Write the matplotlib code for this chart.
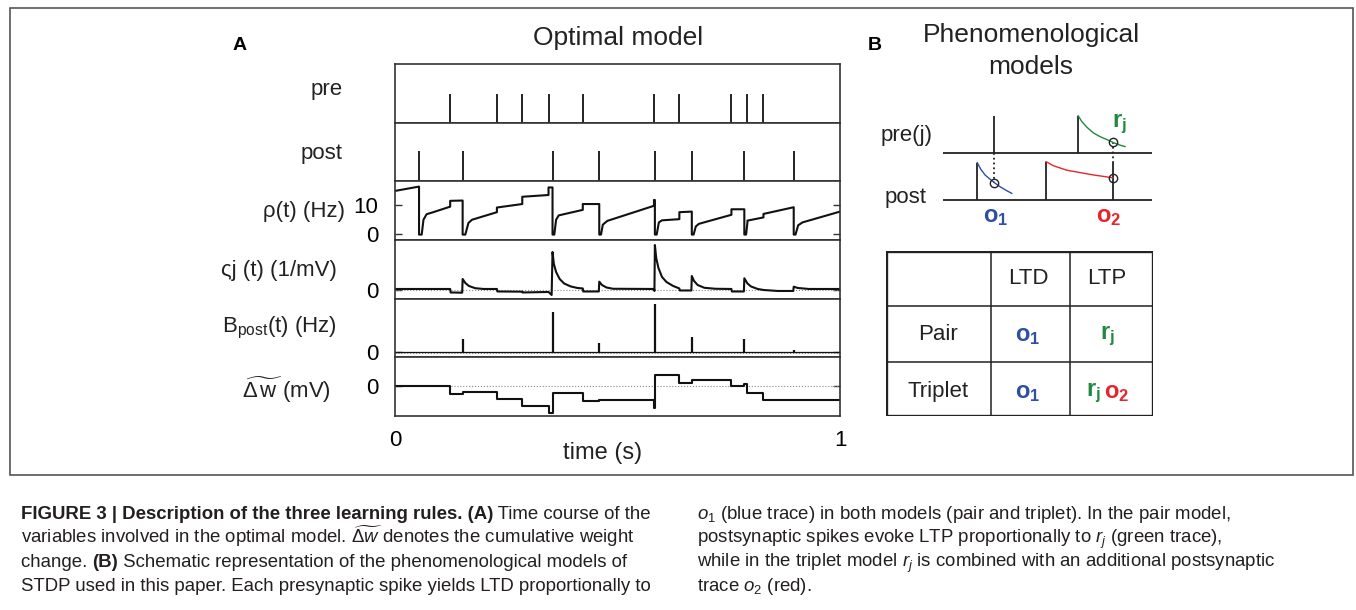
import matplotlib
matplotlib.use('Agg')
import matplotlib.pyplot as plt
from matplotlib import font_manager
from matplotlib.patches import Rectangle

# ---- panel A data (time in s) ----
pre_spikes = [0.124, 0.229, 0.286, 0.345, 0.422, 0.582, 0.639, 0.756, 0.792, 0.828]
post_spikes = [0.054, 0.152, 0.354, 0.459, 0.584, 0.667, 0.785, 0.896]

rho_t = [0.0, 0.054, 0.054, 0.060, 0.064, 0.071, 0.086, 0.124, 0.124, 0.152,
         0.152, 0.158, 0.165, 0.173, 0.229, 0.229, 0.286, 0.286, 0.345, 0.345,
         0.354, 0.354, 0.358, 0.362, 0.368, 0.422, 0.422, 0.459, 0.459, 0.463,
         0.467, 0.477, 0.582, 0.582, 0.584, 0.584, 0.588, 0.593, 0.600, 0.639,
         0.639, 0.667, 0.667, 0.671, 0.676, 0.683, 0.756, 0.756, 0.785, 0.785,
         0.789, 0.792, 0.792, 0.828, 0.828, 0.896, 0.896, 0.900, 0.906, 0.916, 1.0]
rho_hz = [14.8, 16.3, -0.2, -0.2, 4.9, 6.8, 7.5, 9.4, 11.4, 11.5,
          -0.2, -0.2, 3.8, 4.9, 7.5, 9.1, 10.3, 12.8, 13.4, 16.0,
          16.0, -0.2, -0.2, 4.9, 6.4, 8.3, 10.3, 10.3, -0.2, -0.2,
          3.2, 4.5, 9.7, 11.7, 11.7, -0.2, -0.2, 4.0, 4.7, 5.1,
          7.5, 7.7, -0.2, -0.2, 2.6, 3.5, 6.6, 8.5, 8.5, -0.2,
          -0.2, 4.0, 4.6, 5.7, 6.9, 9.2, -0.2, -0.2, 3.0, 4.0, 7.7]

c_t = [0.0, 0.124, 0.125, 0.151, 0.152, 0.158, 0.166, 0.180, 0.199, 0.229,
       0.230, 0.286, 0.287, 0.345, 0.352, 0.354, 0.357, 0.362, 0.370, 0.380,
       0.395, 0.410, 0.422, 0.423, 0.458, 0.459, 0.465, 0.475, 0.490, 0.582,
       0.583, 0.584, 0.587, 0.592, 0.600, 0.610, 0.625, 0.639, 0.640, 0.666,
       0.667, 0.672, 0.680, 0.695, 0.720, 0.756, 0.757, 0.784, 0.785, 0.790,
       0.792, 0.800, 0.815, 0.828, 0.860, 0.895, 0.896, 0.905, 0.930, 1.0]
c_val = [0.1, 0.1, -0.25, -0.27, 1.1, 0.7, 0.4, 0.18, 0.1, 0.1,
         -0.15, -0.17, -0.25, -0.2, -0.5, 3.8, 2.6, 1.8, 1.1, 0.65,
         0.35, 0.2, 0.15, -0.15, -0.15, 0.83, 0.5, 0.25, 0.12, 0.1,
         -0.1, 4.5, 3.2, 2.2, 1.3, 0.8, 0.4, 0.15, -0.05, -0.05,
         1.4, 0.9, 0.5, 0.22, 0.12, 0.1, -0.15, -0.15, 1.17, 0.8,
         0.65, 0.35, 0.1, 0.0, -0.1, -0.1, 0.33, 0.2, 0.1, 0.1]

b_post = [0.7, 13.3, 40.0, 9.0, 48.0, 15.3, 13.3, 2.3]

dw_t = [0.0, 0.124, 0.152, 0.229, 0.286, 0.345, 0.354, 0.422, 0.459, 0.582,
        0.584, 0.639, 0.667, 0.756, 0.785, 0.792, 0.828, 1.0]
dw_mv = [0.0, -8.0, -5.7, -13.0, -20.0, -27.3, -7.3, -15.0, -14.0, -21.7,
         11.0, 3.0, 6.3, -0.3, 1.7, -6.7, -13.7, -13.7]

# ---- panel B schematic ----
sch_pre = [2.45, 6.47]
sch_post = [1.64, 4.93, 8.12]
o1_x = [1.64, 1.80, 2.01, 2.25, 2.46, 2.73, 3.05, 3.29]
o1_y = [0.79, 0.655, 0.53, 0.44, 0.366, 0.28, 0.197, 0.14]
o2_x = [4.93, 5.28, 5.92, 6.56, 7.19, 8.12]
o2_y = [0.81, 0.725, 0.63, 0.58, 0.53, 0.47]
r_x = [6.47, 6.64, 6.88, 7.19, 7.51, 7.83, 8.12, 8.47, 8.71]
r_y = [1.78, 1.66, 1.54, 1.42, 1.34, 1.28, 1.22, 1.16, 1.13]

col_labels = ['LTD', 'LTP']
row_labels = ['Pair', 'Triplet']
ltd_terms = [['o_1'], ['o_1']]
ltp_terms = [['r_j'], ['r_j', 'o_2']]

blue = '#2e4fa3'
green = '#1f8a3e'
red = '#e5252c'
term_color = {'o_1': blue, 'r_j': green, 'o_2': red}

caption_left = [
    [("FIGURE 3 | Description of the three learning rules. (A)", 'bold'), (" Time course of the", 'normal')],
    [("variables involved in the optimal model. $\\widetilde{\\Delta w}$ denotes the cumulative weight", 'normal')],
    [("change. ", 'normal'), ("(B)", 'bold'), (" Schematic representation of the phenomenological models of", 'normal')],
    [("STDP used in this paper. Each presynaptic spike yields LTD proportionally to", 'normal')],
]
caption_right = [
    "$o_1$ (blue trace) in both models (pair and triplet). In the pair model,",
    "postsynaptic spikes evoke LTP proportionally to $r_j$ (green trace),",
    "while in the triplet model $r_j$ is combined with an additional postsynaptic",
    "trace $o_2$ (red).",
]

names = {f.name for f in font_manager.fontManager.ttflist}
if 'Liberation Sans Narrow' in names:
    cap_family, cap_size = 'Liberation Sans Narrow', 15.9
else:
    cap_family, cap_size = 'Liberation Sans', 13.4

plt.rcParams['font.family'] = ['Liberation Sans', 'DejaVu Sans']
plt.rcParams['mathtext.fontset'] = 'custom'
plt.rcParams['mathtext.rm'] = 'Liberation Sans'
plt.rcParams['mathtext.it'] = 'Liberation Sans:italic'
plt.rcParams['mathtext.bf'] = 'Liberation Sans:bold'

W, H = 1356, 610
fig = plt.figure(figsize=(W / 100, H / 100), dpi=100, facecolor='white')


def fx(px):
    return px / W


def fy(py):
    return 1 - py / H


frame_c = '#333333'
lab_fs = 16

fig.add_artist(Rectangle((fx(10), fy(475)), 1343 / W, 467 / H, transform=fig.transFigure,
                         fill=False, ec='#555555', lw=1.2))

# ---- panel A ----
top, row_h = 64, 352 / 6
axs = []
for i in range(6):
    y0 = top + i * row_h
    ax = fig.add_axes([fx(395), fy(y0 + row_h), 445 / W, row_h / H])
    ax.set_xlim(0, 1)
    for s in ax.spines.values():
        s.set_color(frame_c)
        s.set_linewidth(1.2)
    ax.tick_params(axis='x', length=0, labelbottom=False)
    ax.tick_params(axis='y', direction='in', left=True, right=True, length=5,
                   width=1, color=frame_c, labelsize=lab_fs, pad=12)
    ax.set_yticks([])
    axs.append(ax)

ax_pre, ax_post, ax_rho, ax_c, ax_b, ax_dw = axs

ax_pre.vlines(pre_spikes, 0, 0.49, color='#222222', lw=1.4)
ax_pre.set_ylim(0, 1)
ax_post.vlines(post_spikes, 0, 0.51, color='#222222', lw=1.4)
ax_post.set_ylim(0, 1)

ax_rho.plot(rho_t, rho_hz, color='#111111', lw=1.5)
ax_rho.set_ylim(-2.06, 18.1)
ax_rho.set_yticks([0, 10])

ax_c.axhline(0, color='#888888', lw=0.8, ls=':')
ax_c.plot(c_t, c_val, color='#111111', lw=1.5)
ax_c.set_ylim(-0.87, 5.0)
ax_c.set_yticks([0])

ax_b.axhline(-1, color='#888888', lw=0.8, ls=':')
ax_b.axhline(0, color='#111111', lw=0.9)
ax_b.vlines(post_spikes, 0, b_post, color='#111111', lw=1.6)
ax_b.set_ylim(-5, 53.7)
ax_b.set_yticks([0])

ax_dw.axhline(0, color='#888888', lw=0.8, ls=':')
ax_dw.step(dw_t, dw_mv, where='post', color='#111111', lw=1.5)
ax_dw.set_ylim(-30, 28.7)
ax_dw.set_yticks([0])
ax_dw.set_xticks([0, 1])
ax_dw.set_xticklabels(['0', '1'])
ax_dw.tick_params(axis='x', labelbottom=True, labelsize=lab_fs, pad=10)

ylabels = [('pre', 90), ('post', 153), ('ρ(t) (Hz)', 212), ('ςj (t) (1/mV)', 270),
           ('B$_{\\mathrm{post}}$(t) (Hz)', 328), ('$\\widetilde{\\Delta\\,\\mathrm{w}}$ (mV)', 390)]
ylab_right = [343, 343, 345, 337, 337, 331]
for (txt, yp), xr in zip(ylabels, ylab_right):
    fig.text(fx(xr), fy(yp), txt, ha='right', va='center', fontsize=lab_fs, color='#222222')

fig.text(fx(603), fy(453), 'time (s)', ha='center', va='center', fontsize=17, color='#222222')
fig.text(fx(618), fy(38), 'Optimal model', ha='center', va='center', fontsize=19, color='#222222')
fig.text(fx(240), fy(45), 'A', ha='center', va='center', fontsize=14, fontweight='bold')

# ---- panel B schematic ----
fig.text(fx(875), fy(45), 'B', ha='center', va='center', fontsize=14, fontweight='bold')
fig.text(fx(1031), fy(51), 'Phenomenological\nmodels', ha='center', va='center',
         fontsize=19, color='#222222', linespacing=1.38)

axs_b = fig.add_axes([fx(943), fy(223.65), 209 / W, 118.25 / H])
axs_b.set_xlim(0, 10)
axs_b.set_ylim(-0.5, 2.0)
axs_b.axis('off')
axs_b.plot([0, 10], [1, 1], color='#222222', lw=1.3)
axs_b.plot([0, 10], [0, 0], color='#222222', lw=1.3)
axs_b.vlines(sch_pre, 1, 1.78, color='#222222', lw=1.3)
axs_b.vlines(sch_post, 0, [0.79, 0.81, 0.78], color='#222222', lw=1.3)
axs_b.plot([sch_pre[0], sch_pre[0]], [1.0, o1_y[4]], color='#222222', lw=1.3, ls=':')
axs_b.plot([sch_post[2], sch_post[2]], [0.78, r_y[6]], color='#222222', lw=1.3, ls=':')
axs_b.plot(o1_x, o1_y, color=blue, lw=1.0)
axs_b.plot(o2_x, o2_y, color=red, lw=1.0)
axs_b.plot(r_x, r_y, color=green, lw=1.0)
axs_b.plot([o1_x[4], o2_x[-1], r_x[6]], [o1_y[4], o2_y[-1], r_y[6]], 'o', ms=6,
           mfc='none', mec='#222222', mew=1.0, clip_on=False)
axs_b.text(-0.48, 1.37, 'pre(j)', ha='right', va='center', fontsize=lab_fs, color='#222222')
axs_b.text(-0.77, 0.06, 'post', ha='right', va='center', fontsize=lab_fs, color='#222222')
axs_b.text(8.42, 1.6, '$\\mathbf{r_j}$', ha='center', va='center', fontsize=17, color=green)
axs_b.text(2.54, -0.36, '$\\mathbf{o_1}$', ha='center', va='center', fontsize=17, color=blue)
axs_b.text(7.94, -0.36, '$\\mathbf{o_2}$', ha='center', va='center', fontsize=17, color=red)

# ---- table ----
axt = fig.add_axes([fx(886), fy(416), 267 / W, 165 / H])
axt.set_xlim(0, 267)
axt.set_ylim(165, 0)
axt.axis('off')
for xv in [105, 184]:
    axt.plot([xv, xv], [0, 165], color='#222222', lw=1.1)
for yv in [55, 111]:
    axt.plot([0, 267], [yv, yv], color='#222222', lw=1.1)
axt.add_patch(Rectangle((0, 0), 267, 165, fill=False, ec='#222222', lw=2.4))
for lab, xc in zip(col_labels, [142, 221]):
    axt.text(xc, 27, lab, ha='center', va='center', fontsize=lab_fs, color='#222222')
for lab, yc in zip(row_labels, [83, 140]):
    axt.text(52, yc, lab, ha='center', va='center', fontsize=lab_fs, color='#222222')
for r, yc in enumerate([85, 142]):
    for term in ltd_terms[r]:
        axt.text(142, yc, '$\\mathbf{%s}$' % term, ha='center', va='center', fontsize=17,
                 color=term_color[term])
    terms = ltp_terms[r]
    xs = [221] if len(terms) == 1 else [207, 231]
    for term, xc in zip(terms, xs):
        axt.text(xc, yc, '$\\mathbf{%s}$' % term, ha='center', va='center', fontsize=17,
                 color=term_color[term])

# ---- caption ----
renderer = fig.canvas.get_renderer()
cap_col = '#231f20'
for k, parts in enumerate(caption_left):
    x = 21
    for s, w in parts:
        t = fig.text(fx(x), fy(519 + 24 * k), s, fontsize=cap_size, fontweight=w,
                     family=[cap_family, 'DejaVu Sans'], va='baseline', color=cap_col)
        x += t.get_window_extent(renderer).width
for k, s in enumerate(caption_right):
    fig.text(fx(697), fy(519 + 24 * k), s, fontsize=cap_size,
             family=[cap_family, 'DejaVu Sans'], va='baseline', color=cap_col)

fig.savefig('out.png', dpi=100, facecolor='white')
